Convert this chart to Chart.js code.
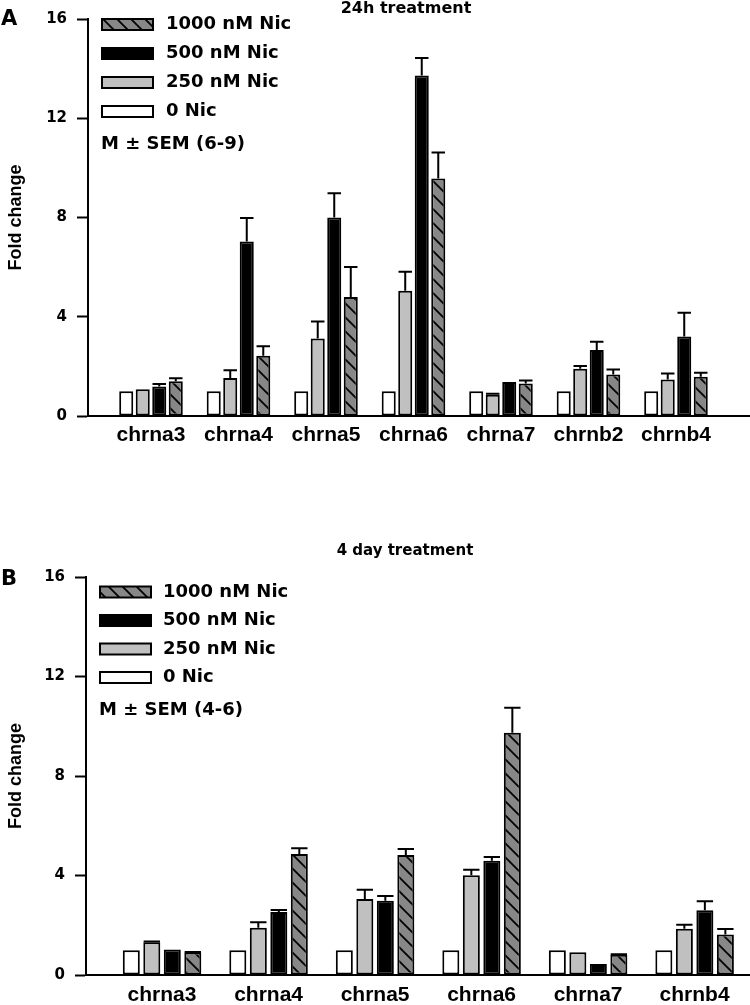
<!DOCTYPE html>
<html><head><meta charset="utf-8">
<script src="https://cdn.jsdelivr.net/npm/chart.js@4/dist/chart.umd.min.js"></script>
<style>
html,body{margin:0;padding:0;background:#fff;}
#wrap{position:relative;width:750px;height:1005px;overflow:hidden;background:#fff}
.box{position:absolute;left:0;width:750px}
</style></head><body>
<div id="wrap">
<div class="box" style="top:0;height:470px"><canvas id="cA"></canvas></div>
<div class="box" style="top:520px;height:485px"><canvas id="cB"></canvas></div>
</div>
<script>
// ---- data ----
const seriesLabels = ['0 Nic', '250 nM Nic', '500 nM Nic', '1000 nM Nic'];
const yTicks = [0, 4, 8, 12, 16];

// Panel A: 24h treatment
const catsA = ['chrna3', 'chrna4', 'chrna5', 'chrna6', 'chrna7', 'chrnb2', 'chrnb4'];
const a0    = [1, 1, 1, 1, 1, 1, 1];
const a250  = [1.08, 1.53, 3.12, 5.05, 0.86, 1.90, 1.47];
const a500  = [1.19, 7.03, 8.00, 13.72, 1.37, 2.66, 3.20];
const a1000 = [1.40, 2.43, 4.80, 9.57, 1.31, 1.67, 1.58];
const ae0    = [0, 0, 0, 0, 0, 0, 0];
const ae250  = [0, 0.31, 0.69, 0.76, 0.04, 0.12, 0.24];
const ae500  = [0.10, 0.95, 0.98, 0.71, 0, 0.33, 0.96];
const ae1000 = [0.12, 0.38, 1.21, 1.05, 0.12, 0.20, 0.16];

// Panel B: 4 day treatment
const catsB = ['chrna3', 'chrna4', 'chrna5', 'chrna6', 'chrna7', 'chrnb4'];
const b0    = [1, 1, 1, 1, 1, 1];
const b250  = [1.32, 1.90, 3.06, 4.01, 0.91, 1.86];
const b500  = [1.03, 2.53, 2.98, 4.59, 0.44, 2.60];
const b1000 = [0.90, 4.86, 4.82, 9.74, 0.81, 1.63];
const be0    = [0, 0, 0, 0, 0, 0];
const be250  = [0.03, 0.22, 0.37, 0.22, 0, 0.16];
const be500  = [0, 0.08, 0.20, 0.15, 0, 0.36];
const be1000 = [0.02, 0.24, 0.25, 1.00, 0.02, 0.22];

// ---- styling helpers ----
function hatchPattern(ctx) {
  const c = document.createElement('canvas'); c.width = 14; c.height = 14;
  const g = c.getContext('2d');
  g.fillStyle = '#878787'; g.fillRect(0, 0, 14, 14);
  g.strokeStyle = '#000'; g.lineWidth = 1.8; g.lineCap = 'square';
  g.beginPath();
  g.moveTo(-2, -2); g.lineTo(16, 16);
  g.moveTo(-2, 12); g.lineTo(2, 16);
  g.moveTo(12, -2); g.lineTo(16, 2);
  g.stroke();
  return ctx.createPattern(c, 'repeat');
}

const errorBars = {
  id: 'errorBars',
  afterDatasetsDraw(chart) {
    const ctx = chart.ctx, ys = chart.scales.y;
    ctx.save();
    ctx.strokeStyle = '#000'; ctx.lineWidth = 2; ctx.lineCap = 'butt';
    chart.data.datasets.forEach((ds, d) => {
      const meta = chart.getDatasetMeta(d);
      meta.data.forEach((bar, i) => {
        const e = ds.err ? ds.err[i] : 0;
        if (!e) return;
        const p = bar.getProps(['x', 'y', 'width'], true);
        const yTop = ys.getPixelForValue(ds.data[i] + e);
        const hw = p.width * 0.48;
        ctx.beginPath();
        ctx.moveTo(p.x, p.y); ctx.lineTo(p.x, yTop);
        ctx.moveTo(p.x - hw, yTop); ctx.lineTo(p.x + hw, yTop);
        ctx.stroke();
      });
    });
    ctx.restore();
  }
};

const deco = {
  id: 'deco',
  afterDraw(chart, args, o) {
    const ctx = chart.ctx;
    ctx.save();
    ctx.fillStyle = '#000';
    ctx.textBaseline = 'middle';
    ctx.font = 'bold 21px "DejaVu Sans"';
    ctx.textAlign = 'left';
    ctx.fillText(o.letter, o.letterX, o.letterY);
    ctx.font = 'bold ' + o.titleSize + 'px "DejaVu Sans"';
    ctx.textAlign = 'center';
    ctx.fillText(o.title, o.titleX, o.titleY);
    ctx.textAlign = 'left';
    ctx.font = 'bold 18px "DejaVu Sans"';
    const dss = chart.data.datasets;
    for (let k = 0; k < dss.length; k++) {
      const ds = dss[dss.length - 1 - k];
      const cy = o.legY + k * o.legStep;
      ctx.fillStyle = ds.backgroundColor;
      ctx.fillRect(o.legX, cy - 5.5, 51, 11);
      ctx.strokeStyle = '#000'; ctx.lineWidth = 2;
      ctx.strokeRect(o.legX, cy - 5.5, 51, 11);
      ctx.fillStyle = '#000';
      ctx.fillText(ds.label, o.legTextX, cy);
    }
    ctx.fillText(o.note, o.legX - 1, o.legY + dss.length * o.legStep + 4);
    ctx.restore();
  }
};

function makeChart(id, cats, series, errs, cfg) {
  const ctx = document.getElementById(id).getContext('2d');
  const fills = ['#ffffff', '#c0c0c0', '#000000', hatchPattern(ctx)];
  const datasets = series.map((s, k) => ({
    label: seriesLabels[k],
    data: s,
    err: errs[k],
    backgroundColor: fills[k],
    borderColor: '#000',
    borderWidth: 2,
    borderSkipped: false,
    categoryPercentage: cfg.catPct,
    barPercentage: cfg.barPct
  }));
  return new Chart(ctx, {
    type: 'bar',
    data: { labels: cats.map((c, i) => i), datasets },
    options: {
      responsive: true,
      maintainAspectRatio: false,
      animation: false,
      events: [],
      layout: { padding: { top: cfg.padTop, left: 0, right: 0, bottom: 0 } },
      plugins: {
        legend: { display: false },
        tooltip: { enabled: false },
        deco: cfg.deco
      },
      scales: {
        x: {
          type: 'linear',
          min: cfg.xmin, max: cfg.xmax,
          offset: false,
          bounds: 'data',
          afterBuildTicks: s => { s.ticks = cats.map((c, i) => ({ value: i })); },
          afterFit: s => { s.height = cfg.xh; },
          ticks: {
            autoSkip: false, maxRotation: 0, minRotation: 0,
            padding: cfg.xpad,
            color: '#000',
            font: { family: '"Liberation Sans", Arial, sans-serif', weight: 'bold', size: 21 },
            callback: v => cats[v]
          },
          grid: { display: false, drawTicks: false, offset: false },
          border: { display: true, color: '#000', width: 2 }
        },
        y: {
          min: 0, max: 16,
          afterBuildTicks: s => { s.ticks = yTicks.map(v => ({ value: v })); },
          afterFit: s => { s.width = cfg.yw; },
          ticks: {
            color: '#000', padding: 10,
            font: { family: '"DejaVu Sans"', weight: 'bold', size: 15 }
          },
          grid: { display: true, drawOnChartArea: false, drawTicks: true, tickLength: 11, tickWidth: 2, tickColor: '#000' },
          border: { display: true, color: '#000', width: 2 },
          title: {
            display: true, text: 'Fold change', color: '#000',
            font: { family: '"Liberation Sans", Arial, sans-serif', weight: 'bold', size: 18 },
            padding: { top: 5, bottom: 0 }
          }
        }
      }
    },
    plugins: [errorBars, deco]
  });
}

makeChart('cA', catsA, [a0, a250, a500, a1000], [ae0, ae250, ae500, ae1000], {
  catPct: 0.755, barPct: 0.85,
  padTop: 15, xh: 54, yw: 88, xpad: 7,
  xmin: -0.72, xmax: 6.846,
  deco: {
    letter: 'A', letterX: 1, letterY: 20,
    title: '24h treatment', titleSize: 16, titleX: 406, titleY: 9,
    legX: 102, legTextX: 166, legY: 24.5, legStep: 29,
    note: 'M ± SEM (6-9)'
  }
});

makeChart('cB', catsB, [b0, b250, b500, b1000], [be0, be250, be500, be1000], {
  catPct: 0.77, barPct: 0.83,
  padTop: 57, xh: 30, yw: 86, xpad: 8,
  xmin: -0.714, xmax: 5.52,
  deco: {
    letter: 'B', letterX: 1, letterY: 60,
    title: '4 day treatment', titleSize: 15, titleX: 405, titleY: 31,
    legX: 100, legTextX: 163, legY: 72, legStep: 28.5,
    note: 'M ± SEM (4-6)'
  }
});
</script>
</body></html>
